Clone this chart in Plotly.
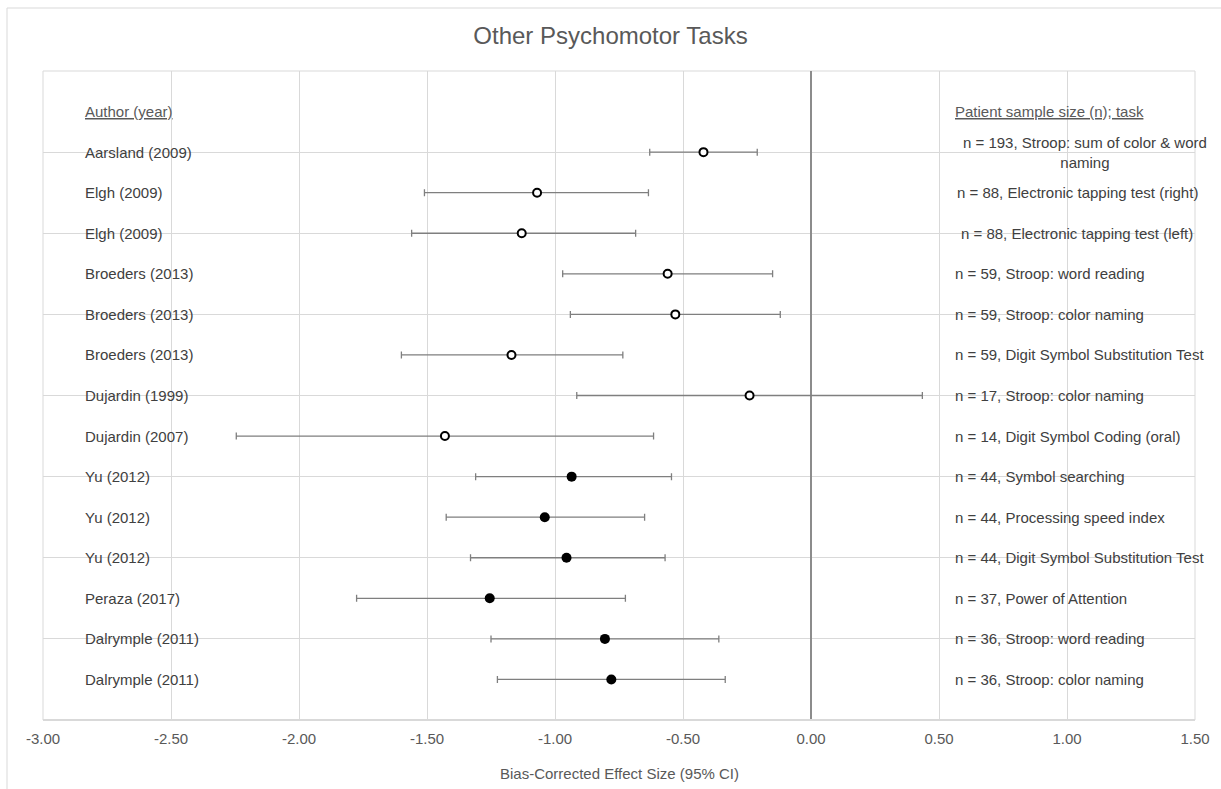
import plotly.graph_objects as go

authors = ["Aarsland (2009)", "Elgh (2009)", "Elgh (2009)", "Broeders (2013)",
           "Broeders (2013)", "Broeders (2013)", "Dujardin (1999)", "Dujardin (2007)",
           "Yu (2012)", "Yu (2012)", "Yu (2012)", "Peraza (2017)",
           "Dalrymple (2011)", "Dalrymple (2011)"]
tasks = ["n = 193, Stroop: sum of color & word<br>naming",
         "n = 88, Electronic tapping test (right)",
         "n = 88, Electronic tapping test (left)",
         "n = 59, Stroop: word reading",
         "n = 59, Stroop: color naming",
         "n = 59, Digit Symbol Substitution Test",
         "n = 17, Stroop: color naming",
         "n = 14, Digit Symbol Coding (oral)",
         "n = 44, Symbol searching",
         "n = 44, Processing speed index",
         "n = 44, Digit Symbol Substitution Test",
         "n = 37, Power of Attention",
         "n = 36, Stroop: word reading",
         "n = 36, Stroop: color naming"]
effect = [-0.42, -1.07, -1.13, -0.56, -0.53, -1.17, -0.24, -1.43,
          -0.935, -1.04, -0.955, -1.255, -0.805, -0.78]
ci_low = [-0.63, -1.51, -1.56, -0.97, -0.94, -1.60, -0.915, -2.245,
          -1.31, -1.425, -1.33, -1.775, -1.25, -1.225]
ci_high = [-0.21, -0.635, -0.685, -0.15, -0.12, -0.735, 0.435, -0.615,
           -0.545, -0.65, -0.57, -0.725, -0.36, -0.335]
open_marker = [True] * 8 + [False] * 6
row_pos = list(range(14, 0, -1))
tick_vals = [-3.0, -2.5, -2.0, -1.5, -1.0, -0.5, 0.0, 0.5, 1.0, 1.5]
tick_text = ["-3.00", "-2.50", "-2.00", "-1.50", "-1.00", "-0.50", "0.00", "0.50", "1.00", "1.50"]

FONT = "Liberation Sans, Arial, sans-serif"
TXT = "#404040"
GREY = "#595959"
FS = 15

fig = go.Figure()

for flag, fill in [(True, "white"), (False, "black")]:
    idx = [i for i, o in enumerate(open_marker) if o == flag]
    fig.add_trace(go.Scatter(
        x=[effect[i] for i in idx],
        y=[row_pos[i] for i in idx],
        mode="markers",
        marker=dict(size=8 if flag else 10, color=fill, symbol="circle",
                    line=dict(color="black", width=2 if flag else 0)),
        error_x=dict(type="data", symmetric=False,
                     array=[ci_high[i] - effect[i] for i in idx],
                     arrayminus=[effect[i] - ci_low[i] for i in idx],
                     color="#7f7f7f", thickness=1.3, width=3.5),
        showlegend=False, hoverinfo="skip"))

annotations = []
AUTH_X = -2.845
TASK_X = 0.555
annotations.append(dict(x=AUTH_X, y=15, xref="x", yref="y", text="<u>Author (year)</u>",
                        showarrow=False, xanchor="left", yanchor="middle",
                        font=dict(family=FONT, size=FS, color=GREY)))
annotations.append(dict(x=TASK_X, y=15, xref="x", yref="y",
                        text="<u>Patient sample size (n); task</u>",
                        showarrow=False, xanchor="left", yanchor="middle",
                        font=dict(family=FONT, size=FS, color=GREY)))
for i, (a, t) in enumerate(zip(authors, tasks)):
    annotations.append(dict(x=AUTH_X, y=row_pos[i], xref="x", yref="y", text=a,
                            showarrow=False, xanchor="left", yanchor="middle",
                            font=dict(family=FONT, size=FS, color=TXT)))
    if i == 0:
        annotations.append(dict(x=1.07, y=row_pos[i], xref="x", yref="y", text=t,
                                showarrow=False, xanchor="center", yanchor="middle",
                                align="center",
                                font=dict(family=FONT, size=FS, color=TXT)))
    else:
        tx = TASK_X + (0.008 if i == 1 else 0.022 if i == 2 else 0.0)
        annotations.append(dict(x=tx, y=row_pos[i], xref="x", yref="y", text=t,
                                showarrow=False, xanchor="left", yanchor="middle",
                                font=dict(family=FONT, size=FS, color=TXT)))

annotations.append(dict(x=0.5, y=-0.083, xref="paper", yref="paper",
                        text="Bias-Corrected Effect Size (95% CI)", showarrow=False,
                        xanchor="center", yanchor="middle",
                        font=dict(family=FONT, size=FS, color=GREY)))

fig.update_layout(
    width=1221, height=789,
    margin=dict(l=43, r=26, t=71, b=69),
    paper_bgcolor="white", plot_bgcolor="white",
    title=dict(text="Other Psychomotor Tasks", x=0.5, xanchor="center",
               y=1 - 36 / 789, yanchor="middle", yref="container",
               font=dict(family=FONT, size=24, color=GREY)),
    xaxis=dict(range=[-3, 1.5], tickvals=tick_vals, ticktext=tick_text,
               showgrid=True, gridcolor="#d9d9d9", gridwidth=1,
               zeroline=True, zerolinecolor="#8c8c8c", zerolinewidth=1.5,
               showline=False, ticks="", ticklabelstandoff=8,
               tickfont=dict(family=FONT, size=FS, color=GREY)),
    yaxis=dict(range=[0, 16], dtick=2, tick0=0, showticklabels=False,
               showgrid=True, gridcolor="#d9d9d9", gridwidth=1,
               zeroline=True, zerolinecolor="#d9d9d9", zerolinewidth=1.5,
               showline=False, ticks=""),
    annotations=annotations,
    shapes=[dict(type="rect", xref="paper", yref="paper",
                 x0=(7 - 43) / 1152, x1=(1230 - 43) / 1152,
                 y0=(720 - 800) / 649, y1=(720 - 8) / 649,
                 line=dict(color="#d9d9d9", width=1), fillcolor="rgba(0,0,0,0)",
                 layer="below"),
            dict(type="rect", xref="paper", yref="paper",
                 x0=0, x1=1, y0=0, y1=1,
                 line=dict(color="#d9d9d9", width=1), fillcolor="rgba(0,0,0,0)",
                 layer="below")],
)

fig.write_html("out.html")
